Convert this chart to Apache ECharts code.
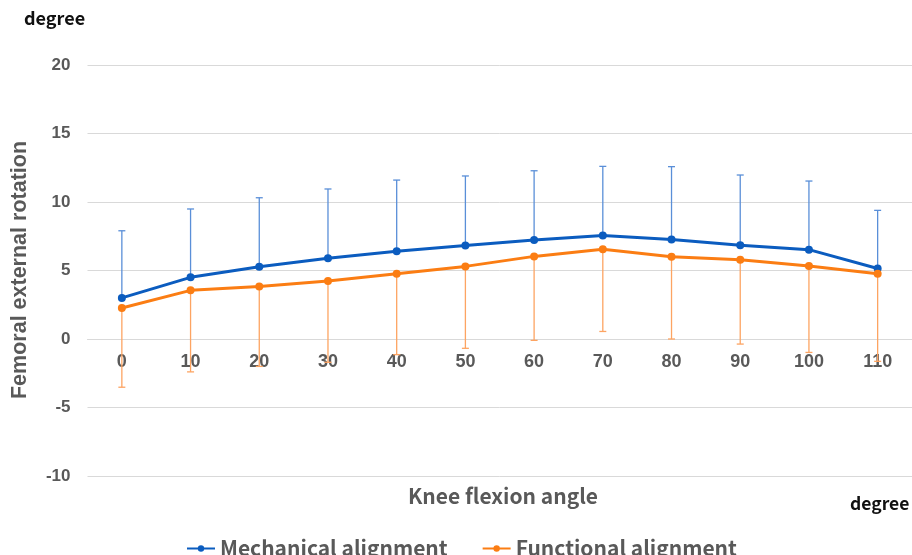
<!DOCTYPE html>
<html>
<head>
<meta charset="utf-8">
<script src="https://cdn.jsdelivr.net/npm/echarts@6/dist/echarts.min.js"></script>
<style>
  html, body { margin: 0; padding: 0; background: #fff; }
  #chart { width: 912px; height: 555px; }
</style>
</head>
<body>
<div id="chart"></div>
<script>
// Knee flexion angles (degrees)
const angles = ['0', '10', '20', '30', '40', '50', '60', '70', '80', '90', '100', '110'];

// Mean femoral external rotation and error-bar ends
const mechanicalMean = [3.0, 4.5, 5.27, 5.9, 6.4, 6.83, 7.22, 7.56, 7.27, 6.84, 6.52, 5.15];
const mechanicalUpper = [7.9, 9.49, 10.31, 10.95, 11.6, 11.9, 12.28, 12.6, 12.58, 11.97, 11.53, 9.39];
const functionalMean = [2.26, 3.55, 3.84, 4.23, 4.77, 5.3, 6.03, 6.55, 6.0, 5.79, 5.33, 4.77];
const functionalLower = [-3.52, -2.4, -2.0, -1.7, -1.14, -0.68, -0.1, 0.55, 0.0, -0.37, -0.98, -1.63];

const yTicks = { min: -10, max: 20, interval: 5 };

const blue = '#0b5cbf';
const blueBar = '#5a8fd8';
const orange = '#fb7d13';
const orangeBar = '#fda462';
const textGray = '#595959';
const gridGray = '#d9d9d9';

const gridBox = { left: 87.5, top: 65, width: 828, height: 411 };
// Lift the category axis from the bottom edge up to the y = 0 line
const zeroOffset = -((0 - yTicks.min) / (yTicks.max - yTicks.min)) * gridBox.height;

function errorBarSeries(name, means, ends, color) {
  const data = means.map((m, i) => [i, m, ends[i]]);
  return {
    type: 'custom',
    name: name,
    z: 1,
    silent: true,
    data: data,
    renderItem: function (params, api) {
      const p0 = api.coord([api.value(0), api.value(1)]);
      const p1 = api.coord([api.value(0), api.value(2)]);
      const half = 3.5;
      const style = { stroke: color, lineWidth: 1.3 };
      return {
        type: 'group',
        children: [
          { type: 'line', shape: { x1: p0[0], y1: p0[1], x2: p1[0], y2: p1[1] }, style: style },
          { type: 'line', shape: { x1: p1[0] - half, y1: p1[1], x2: p1[0] + half, y2: p1[1] }, style: style }
        ]
      };
    },
    encode: { x: 0, y: [1, 2] }
  };
}

const chart = echarts.init(document.getElementById('chart'));
chart.setOption({
  animation: false,
  backgroundColor: '#ffffff',
  grid: Object.assign({ containLabel: false }, gridBox),
  xAxis: {
    type: 'category',
    data: angles,
    boundaryGap: true,
    position: 'bottom',
    offset: zeroOffset,
    axisLine: { show: true, onZero: false, lineStyle: { color: gridGray, width: 1 } },
    axisTick: { show: false },
    axisLabel: {
      margin: 14,
      color: textGray,
      fontSize: 18,
      fontWeight: 'bold',
      fontFamily: 'Liberation Sans'
    }
  },
  yAxis: {
    type: 'value',
    min: yTicks.min,
    max: yTicks.max,
    interval: yTicks.interval,
    axisLine: { show: false },
    axisTick: { show: false },
    splitLine: { lineStyle: { color: gridGray, width: 1 } },
    axisLabel: {
      margin: 17,
      color: textGray,
      fontSize: 17,
      fontWeight: 'bold',
      fontFamily: 'Liberation Sans'
    }
  },
  legend: {
    top: 533,
    left: 181,
    itemGap: 34,
    itemWidth: 28,
    itemHeight: 8,
    textStyle: {
      color: textGray,
      fontSize: 21,
      fontWeight: 'bold',
      fontFamily: 'Noto Sans CJK JP'
    },
    data: ['Mechanical alignment', 'Functional alignment']
  },
  graphic: [
    {
      type: 'text', left: 24, top: 9,
      style: { text: 'degree', fill: '#111', font: 'bold 18px "Noto Sans CJK JP"' }
    },
    {
      type: 'text', left: 850, top: 495,
      style: { text: 'degree', fill: '#111', font: 'bold 17.5px "Noto Sans CJK JP"' }
    },
    {
      type: 'text', x: 503, y: 496,
      style: {
        text: 'Knee flexion angle', fill: textGray,
        font: 'bold 21px "Noto Sans CJK JP"', align: 'center', verticalAlign: 'middle'
      }
    },
    {
      type: 'text', x: 20, y: 270, rotation: Math.PI / 2,
      style: {
        text: 'Femoral external rotation', fill: textGray,
        font: 'bold 21.5px "Liberation Sans"', align: 'center', verticalAlign: 'middle'
      }
    }
  ],
  series: [
    errorBarSeries('mechErr', mechanicalMean, mechanicalUpper, blueBar),
    errorBarSeries('funcErr', functionalMean, functionalLower, orangeBar),
    {
      name: 'Mechanical alignment',
      type: 'line',
      z: 3,
      data: mechanicalMean,
      symbol: 'circle',
      symbolSize: 8,
      lineStyle: { color: blue, width: 3 },
      itemStyle: { color: blue }
    },
    {
      name: 'Functional alignment',
      type: 'line',
      z: 3,
      data: functionalMean,
      symbol: 'circle',
      symbolSize: 8,
      lineStyle: { color: orange, width: 3 },
      itemStyle: { color: orange }
    }
  ]
});
</script>
</body>
</html>
